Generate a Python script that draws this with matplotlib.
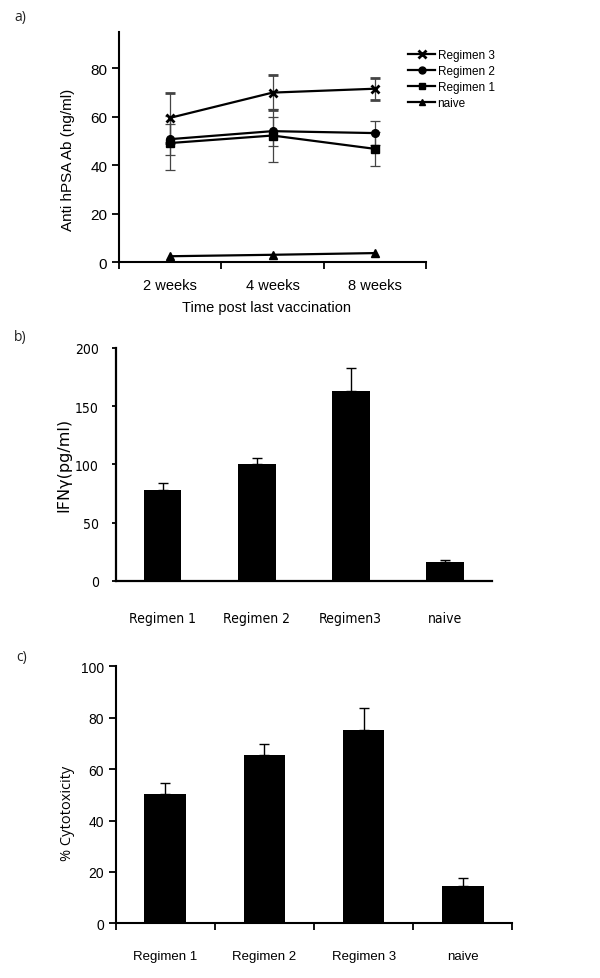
import matplotlib.pyplot as plt
from matplotlib.lines import Line2D
import numpy as np

# panel a - antibody titres
weeks = ['2 weeks', '4 weeks', '8 weeks']
reg3 = [59.6, 70.0, 71.6]
reg3_err = [10.2, 7.3, 4.5]
reg2 = [50.8, 54.1, 53.3]
reg2_err = [6.4, 6.0, 5.0]
reg1 = [49.2, 52.3, 46.8]
reg1_err = [11.0, 11.0, 7.1]
naive = [2.5, 3.1, 3.8]

# panel b - IFN gamma
groups_b = ['Regimen 1', 'Regimen 2', 'Regimen3', 'naive']
ifn = [78.2, 100.6, 163.0, 15.8]
ifn_err = [5.5, 5.2, 19.9, 2.2]

# panel c - cytotoxicity
groups_c = ['Regimen 1', 'Regimen 2', 'Regimen 3', 'naive']
cyto = [50.3, 65.5, 75.2, 14.5]
cyto_err = [4.3, 4.3, 8.7, 3.3]

W, H = 600.0, 979.0
fig = plt.figure(figsize=(6, 9.79), dpi=100)
plt.rcParams['font.family'] = ['Liberation Sans', 'DejaVu Sans']

def box(l, t, r, b):
    return [l / W, 1 - b / H, (r - l) / W, (b - t) / H]

def fpt(x, y):
    # pixel position -> figure fraction
    return x / W, 1 - y / H

# ---- a)
ax1 = fig.add_axes(box(119, 33, 426, 263.3))
x = np.arange(1, 4)
ekw = dict(ecolor='#444444', elinewidth=0.9, capsize=3.5, capthick=0.9)
ax1.errorbar(x, reg3, yerr=reg3_err, color='k', lw=1.6, marker='x', ms=6, mew=2, **ekw)
ax1.errorbar(x, reg2, yerr=reg2_err, color='k', lw=1.6, marker='o', ms=5.5, **ekw)
ax1.errorbar(x, reg1, yerr=reg1_err, color='k', lw=1.6, marker='s', ms=5.5, **ekw)
ax1.plot(x, naive, color='k', lw=1.6, marker='^', ms=5.5)
ax1.set_xlim(0.5, 3.5)
ax1.set_ylim(0, 95)
ax1.set_yticks([0, 20, 40, 60, 80])
ax1.set_xticks(x)
ax1.set_xticklabels(weeks, fontsize=10.5)
ax1.set_xticks([0.5, 1.5, 2.5, 3.5], minor=True)
ax1.tick_params(axis='x', which='major', length=0, pad=11)
ax1.tick_params(axis='x', which='minor', length=5, width=1.3, direction='out')
ax1.tick_params(axis='y', length=5, width=1.3, labelsize=11)
ax1.set_xlabel('Time post last vaccination', fontsize=10.5)
ax1.xaxis.set_label_coords(*fpt(267, 301), transform=fig.transFigure)
ax1.set_ylabel('Anti hPSA Ab (ng/ml)', fontsize=11)
ax1.yaxis.set_label_coords(*fpt(75, 160), transform=fig.transFigure)
for s in ['top', 'right']:
    ax1.spines[s].set_visible(False)
for s in ['left', 'bottom']:
    ax1.spines[s].set_linewidth(1.5)
handles = [Line2D([], [], color='k', lw=1.6, marker='x', ms=6, mew=2),
           Line2D([], [], color='k', lw=1.6, marker='o', ms=5),
           Line2D([], [], color='k', lw=1.6, marker='s', ms=5),
           Line2D([], [], color='k', lw=1.6, marker='^', ms=5)]
ax1.legend(handles, ['Regimen 3', 'Regimen 2', 'Regimen 1', 'naive'],
           loc='upper left', bbox_to_anchor=fpt(408, 50), bbox_transform=fig.transFigure,
           frameon=False, fontsize=8.5, handlelength=2.3, handletextpad=0.2,
           labelspacing=0.35, borderaxespad=0, borderpad=0)
fig.text(*fpt(14, 17), 'a)', fontsize=10, family='Open Sans', va='center', color='#222222')

# ---- b)
ax2 = fig.add_axes(box(115.7, 349, 491.7, 581.7))
xb = np.arange(len(groups_b))
ax2.bar(xb, ifn, width=0.4, color='k')
ax2.errorbar(xb, ifn, yerr=[np.zeros(4), ifn_err], fmt='none', ecolor='k', elinewidth=1, capsize=3.5, capthick=1)
ax2.set_xlim(-0.5, 3.5)
ax2.set_ylim(0, 200)
ax2.set_yticks([0, 50, 100, 150, 200])
ax2.set_xticks(xb)
ax2.set_xticklabels(groups_b, fontsize=10, family='DejaVu Sans', fontstretch='condensed')
ax2.tick_params(axis='x', length=0, pad=22)
ax2.tick_params(axis='y', length=3, width=1.3, pad=9)
for lab in ax2.get_yticklabels():
    lab.set_family('DejaVu Sans')
    lab.set_fontstretch('condensed')
    lab.set_fontsize(10)
ax2.set_ylabel('IFN\u03b3(pg/ml)', fontsize=11.5, family='DejaVu Sans')
ax2.yaxis.set_label_coords(*fpt(71, 465), transform=fig.transFigure)
for s in ['top', 'right']:
    ax2.spines[s].set_visible(False)
for s in ['left', 'bottom']:
    ax2.spines[s].set_linewidth(1.6)
fig.text(*fpt(14, 337), 'b)', fontsize=10, family='Open Sans', va='center', color='#222222')

# ---- c)
ax3 = fig.add_axes(box(115.7, 667.3, 512.3, 924.3))
xc = np.arange(len(groups_c))
ax3.bar(xc, cyto, width=0.42, color='k')
ax3.errorbar(xc, cyto, yerr=[np.zeros(4), cyto_err], fmt='none', ecolor='k', elinewidth=1, capsize=3.5, capthick=1)
ax3.set_xlim(-0.5, 3.5)
ax3.set_ylim(0, 100)
ax3.set_yticks([0, 20, 40, 60, 80, 100])
ax3.set_xticks(xc)
ax3.set_xticklabels(groups_c, fontsize=9.5)
ax3.set_xticks([-0.5, 0.5, 1.5, 2.5, 3.5], minor=True)
ax3.tick_params(axis='x', which='major', length=0, pad=19)
ax3.tick_params(axis='x', which='minor', length=5, width=1.3, direction='out')
ax3.tick_params(axis='y', length=5, width=1.3, labelsize=10)
ax3.set_ylabel('% Cytotoxicity', fontsize=10.5, family='Open Sans')
ax3.yaxis.set_label_coords(*fpt(75, 813), transform=fig.transFigure)
for s in ['top', 'right']:
    ax3.spines[s].set_visible(False)
for s in ['left', 'bottom']:
    ax3.spines[s].set_linewidth(1.5)
fig.text(*fpt(16, 658), 'c)', fontsize=10, family='Open Sans', va='center', color='#222222')

fig.savefig('out.png', dpi=100)
